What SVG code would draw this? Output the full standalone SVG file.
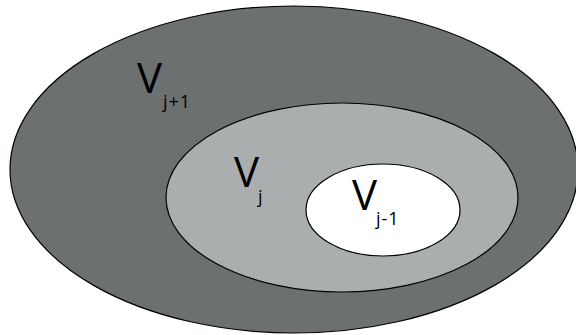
<svg xmlns="http://www.w3.org/2000/svg" width="576" height="335" viewBox="0 0 576 335">
<style>
.e{stroke:#000;stroke-width:1.2}
.v{font-family:"Open Sans","Liberation Sans",sans-serif;font-size:42px;fill:#000}
.s{font-family:"Open Sans","Liberation Sans",sans-serif;font-size:18px;fill:#000;letter-spacing:1px}
</style>
<rect width="576" height="335" fill="#fff"/>
<g id="vj1">
<ellipse class="e" cx="294" cy="169.5" rx="284" ry="163.5" fill="#6d7071"/>
<text class="v" x="137" y="93">V</text>
<text class="s" x="163" y="107.5">j+1</text>
</g>
<g id="vj">
<ellipse class="e" cx="342" cy="197.5" rx="176" ry="94.5" fill="#abaeaf"/>
<text class="v" x="234" y="187">V</text>
<text class="s" x="258" y="203">j</text>
</g>
<g id="vjm1">
<ellipse class="e" cx="383" cy="210" rx="77" ry="46" fill="#fff"/>
<text class="v" x="352" y="210">V</text>
<text class="s" x="376" y="225">j-1</text>
</g>
<g id="connectors"></g>
</svg>
